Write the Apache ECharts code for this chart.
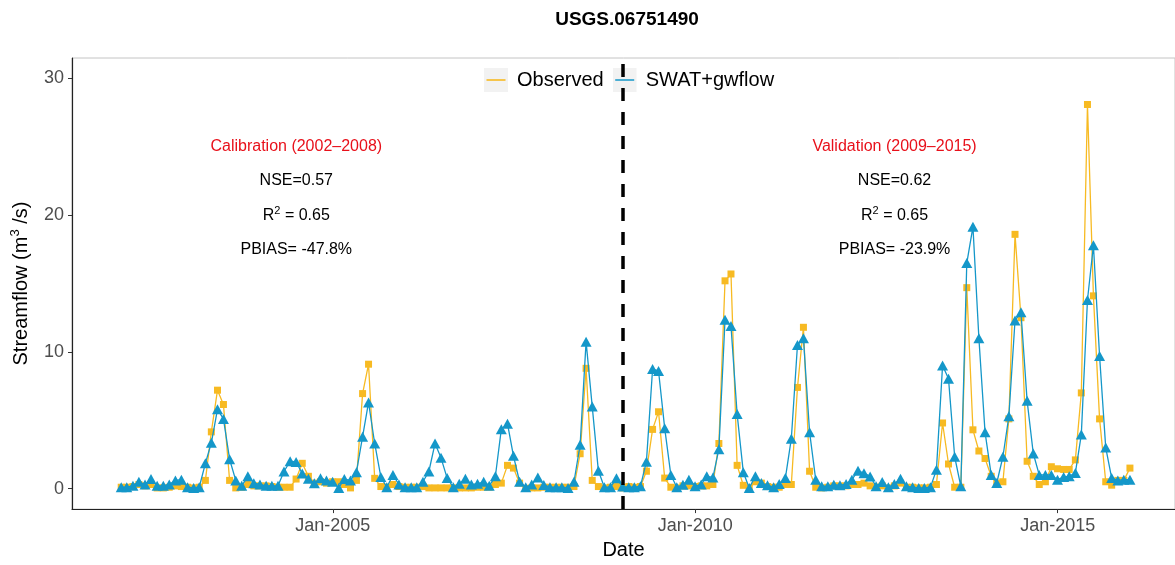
<!DOCTYPE html>
<html>
<head>
<meta charset="utf-8">
<script src="https://cdn.jsdelivr.net/npm/echarts@6/dist/echarts.min.js"></script>
<style>
  html, body { margin: 0; padding: 0; background: #fff; }
  #chart { width: 1175px; height: 565px; }
</style>
</head>
<body>
<div id="chart"></div>
<script>
// Monthly streamflow (m3/s) at USGS 06751490, Jan 2002 – Dec 2015
const startYear = 2002;

const observedFlow = [
  // 2002
  0.1, 0.1, 0.15, 0.3, 0.2, 0.3, 0.05, 0.05, 0.1, 0.2, 0.15, 0.1,
  // 2003
  0.05, 0.1, 0.6, 4.15, 7.2, 6.15, 0.6, 0.05, 0.1, 0.3, 0.2, 0.2,
  // 2004
  0.2, 0.15, 0.1, 0.1, 0.1, 0.7, 1.85, 0.9, 0.4, 0.5, 0.4, 0.5,
  // 2005
  0.5, 0.3, 0.05, 0.6, 6.95, 9.1, 0.75, 0.15, 0.1, 0.3, 0.15, 0.1,
  // 2006
  0.1, 0.1, 0.15, 0.05, 0.05, 0.05, 0.05, 0.05, 0.05, 0.05, 0.05, 0.1,
  // 2007
  0.1, 0.1, 0.3, 0.4, 1.7, 1.5, 0.4, 0.02, 0.05, 0.05, 0.1, 0.1,
  // 2008
  0.1, 0.1, 0.1, 0.15, 2.55, 8.8, 0.6, 0.15, 0.05, 0.1, 0.15, 0.05,
  // 2009
  0.15, 0.1, 0.15, 1.27, 4.33, 5.62, 0.77, 0.1, 0.05, 0.2, 0.2, 0.15,
  // 2010
  0.2, 0.2, 0.3, 3.3, 15.2, 15.7, 1.7, 0.24, 0.05, 0.5, 0.4, 0.15,
  // 2011
  0.1, 0.1, 0.3, 0.3, 7.4, 11.8, 1.27, 0.1, 0.05, 0.1, 0.2, 0.2,
  // 2012
  0.2, 0.3, 0.3, 0.4, 0.2, 0.1, 0.2, 0.05, 0.2, 0.4, 0.1, 0.1,
  // 2013
  0.05, 0.05, 0.1, 0.3, 4.8, 1.8, 0.1, 0.1, 14.7, 4.3, 2.75, 2.2,
  // 2014
  0.9, 0.4, 0.5, 5.1, 18.6, 12.5, 2.0, 0.9, 0.3, 0.5, 1.6, 1.45,
  // 2015
  1.4, 1.4, 2.1, 7.0, 28.1, 14.1, 5.1, 0.5, 0.25, 0.6, 0.6, 1.5
];

const simulatedFlow = [
  // 2002
  0.1, 0.1, 0.2, 0.5, 0.3, 0.7, 0.2, 0.2, 0.3, 0.6, 0.65, 0.1,
  // 2003
  0.05, 0.1, 1.85, 3.35, 5.8, 5.1, 2.15, 0.6, 0.2, 0.9, 0.4, 0.3,
  // 2004
  0.2, 0.2, 0.2, 1.25, 2.0, 1.95, 1.1, 0.72, 0.4, 0.75, 0.6, 0.5,
  // 2005
  0.05, 0.7, 0.6, 1.2, 3.8, 6.3, 3.3, 0.85, 0.1, 1.0, 0.3, 0.1,
  // 2006
  0.1, 0.1, 0.5, 1.25, 3.3, 2.25, 0.77, 0.1, 0.35, 0.72, 0.3, 0.35,
  // 2007
  0.5, 0.2, 0.9, 4.35, 4.75, 2.4, 0.5, 0.1, 0.3, 0.82, 0.27, 0.1,
  // 2008
  0.1, 0.1, 0.05, 0.5, 3.2, 10.75, 6.0, 1.3, 0.1, 0.1, 0.75, 0.15,
  // 2009
  0.1, 0.1, 0.17, 1.97, 8.75, 8.6, 4.42, 1.0, 0.1, 0.29, 0.65, 0.17,
  // 2010
  0.3, 0.9, 0.82, 2.88, 12.35, 11.9, 5.45, 1.2, 0.05, 0.9, 0.41, 0.24,
  // 2011
  0.1, 0.34, 0.77, 3.65, 10.5, 11.0, 4.13, 0.65, 0.17, 0.17, 0.29, 0.24,
  // 2012
  0.34, 0.65, 1.3, 1.13, 0.89, 0.17, 0.48, 0.1, 0.34, 0.72, 0.17, 0.1,
  // 2013
  0.05, 0.05, 0.1, 1.37, 9.0, 8.03, 2.33, 0.17, 16.5, 19.15, 11.0, 4.13,
  // 2014
  1.0, 0.41, 2.33, 5.29, 12.3, 12.9, 6.42, 2.57, 1.0, 1.0, 1.0, 0.65,
  // 2015
  0.85, 0.9, 1.15, 3.95, 13.8, 17.8, 9.7, 3.0, 0.77, 0.6, 0.65, 0.65
];

const seriesNames = ['Observed', 'SWAT+gwflow'];
const yTickValues = [0, 10, 20, 30];
const xTickYears = [2005, 2010, 2015];
const monthAbbr = ['Jan','Feb','Mar','Apr','May','Jun','Jul','Aug','Sep','Oct','Nov','Dec'];

// Calibration / validation split and the statistics printed in each period
const splitYear = 2009;
const periodNotes = [
  { year: 2004, month: 6, y: 25,   text: 'Calibration (2002\u20132008)', head: true },
  { year: 2004, month: 6, y: 22.5, text: 'NSE=0.57' },
  { year: 2004, month: 6, y: 20,   text: 'R{sup|2} = 0.65' },
  { year: 2004, month: 6, y: 17.5, text: 'PBIAS= -47.8%' },
  { year: 2012, month: 9, y: 25,   text: 'Validation (2009\u20132015)', head: true },
  { year: 2012, month: 9, y: 22.5, text: 'NSE=0.62' },
  { year: 2012, month: 9, y: 20,   text: 'R{sup|2} = 0.65' },
  { year: 2012, month: 9, y: 17.5, text: 'PBIAS= -23.9%' }
];

// each monthly value is stamped on the last day of its month
function monthEnd(i) {
  const y = startYear + Math.floor(i / 12), m = i % 12;
  return Date.UTC(y, m + 1, 0);
}
const obsData = observedFlow.map((v, i) => [monthEnd(i), v]);
const simData = simulatedFlow.map((v, i) => [monthEnd(i), v]);
const xTickValues = xTickYears.map(y => Date.UTC(y, 0, 1));

const COL_OBS = '#F7BA22';
const COL_SIM = '#1497C9';
const FONT = '"Liberation Sans", Arial, sans-serif';

function keyIcon(color) {
  const svg = "<svg xmlns='http://www.w3.org/2000/svg' width='24' height='24'>" +
    "<rect width='24' height='24' fill='#F2F2F2'/>" +
    "<line x1='2.5' y1='12' x2='21.5' y2='12' stroke='" + color + "' stroke-width='1.6'/></svg>";
  return 'image://data:image/svg+xml;charset=utf-8,' + encodeURIComponent(svg);
}

const chart = echarts.init(document.getElementById('chart'), null, { renderer: 'canvas' });

const option = {
  animation: false,
  backgroundColor: '#ffffff',
  textStyle: { fontFamily: FONT },
  title: {
    text: 'USGS.06751490',
    left: 622,
    top: 5,
    textAlign: 'center',
    textStyle: { fontFamily: FONT, fontSize: 19, fontWeight: 'bold', color: '#000' }
  },
  legend: {
    left: 484,
    top: 68,
    padding: 0,
    itemWidth: 24,
    itemHeight: 24,
    itemGap: 9,
    data: [
      { name: seriesNames[0], icon: keyIcon(COL_OBS) },
      { name: seriesNames[1], icon: keyIcon(COL_SIM) }
    ],
    textStyle: { fontFamily: FONT, fontSize: 20, color: '#000', padding: [0, 0, 0, 4] }
  },
  // the panel runs past the right edge of the canvas, so its right border is not drawn
  grid: { left: 72, right: -3, top: 58, bottom: 50, show: true, borderColor: '#C4C4C4', borderWidth: 1 },
  xAxis: {
    type: 'value',
    min: Date.UTC(2001, 4, 28),
    max: Date.UTC(2016, 7, 14),
    name: 'Date',
    nameLocation: 'middle',
    nameGap: 28,
    nameTextStyle: { fontFamily: FONT, fontSize: 20, color: '#000' },
    axisLine: { show: true, onZero: false, lineStyle: { color: '#222', width: 1.2 } },
    axisTick: { show: true, length: 4, lineStyle: { color: '#333' }, customValues: xTickValues },
    axisLabel: {
      fontFamily: FONT, fontSize: 18, color: '#4D4D4D', margin: 8,
      customValues: xTickValues,
      formatter: v => { const d = new Date(v); return monthAbbr[d.getUTCMonth()] + '-' + d.getUTCFullYear(); }
    },
    splitLine: { show: false }
  },
  yAxis: {
    type: 'value',
    min: -1.5,
    max: 31.5,
    name: 'Streamflow (m{sup|3} /s)',
    nameLocation: 'middle',
    nameGap: 34,
    nameRotate: 90,
    nameTextStyle: {
      fontFamily: FONT, fontSize: 20, color: '#000', lineHeight: 24,
      rich: { sup: { fontFamily: FONT, fontSize: 13, lineHeight: 10, verticalAlign: 'top', color: '#000' } }
    },
    axisLine: { show: true, onZero: false, lineStyle: { color: '#222', width: 1.2 } },
    axisTick: { show: true, length: 4, lineStyle: { color: '#333' }, customValues: yTickValues },
    axisLabel: { fontFamily: FONT, fontSize: 18, color: '#4D4D4D', margin: 8, customValues: yTickValues },
    splitLine: { show: false }
  },
  series: [
    {
      name: seriesNames[0],
      type: 'line',
      data: obsData,
      symbol: 'rect',
      symbolSize: 7,
      showAllSymbol: true,
      color: COL_OBS,
      lineStyle: { width: 1.3, color: COL_OBS },
      itemStyle: { color: COL_OBS },
      z: 2
    },
    {
      name: seriesNames[1],
      type: 'line',
      data: simData,
      symbol: 'triangle',
      symbolSize: [11, 10],
      showAllSymbol: true,
      color: COL_SIM,
      lineStyle: { width: 1.3, color: COL_SIM },
      itemStyle: { color: COL_SIM },
      z: 3,
      markLine: {
        silent: true,
        symbol: 'none',
        label: { show: false },
        lineStyle: { color: '#000', width: 3.5, type: [13, 11] },
        data: [{ xAxis: Date.UTC(splitYear, 0, 1) }]
      }
    },
    {
      name: 'notes',
      type: 'scatter',
      symbolSize: 0,
      silent: true,
      z: 5,
      itemStyle: { opacity: 1 },
      data: periodNotes.map(n => ({
        value: [Date.UTC(n.year, n.month, 1), n.y],
        label: {
          show: true,
          position: 'inside',
          formatter: n.text,
          fontFamily: FONT,
          fontSize: 16,
          opacity: 1,
          color: n.head ? '#E8101A' : '#000',
          lineHeight: 20,
          rich: { sup: { fontFamily: FONT, fontSize: 11, lineHeight: 8, verticalAlign: 'top', color: '#000' } }
        }
      }))
    }
  ]
};

chart.setOption(option);
</script>
</body>
</html>
